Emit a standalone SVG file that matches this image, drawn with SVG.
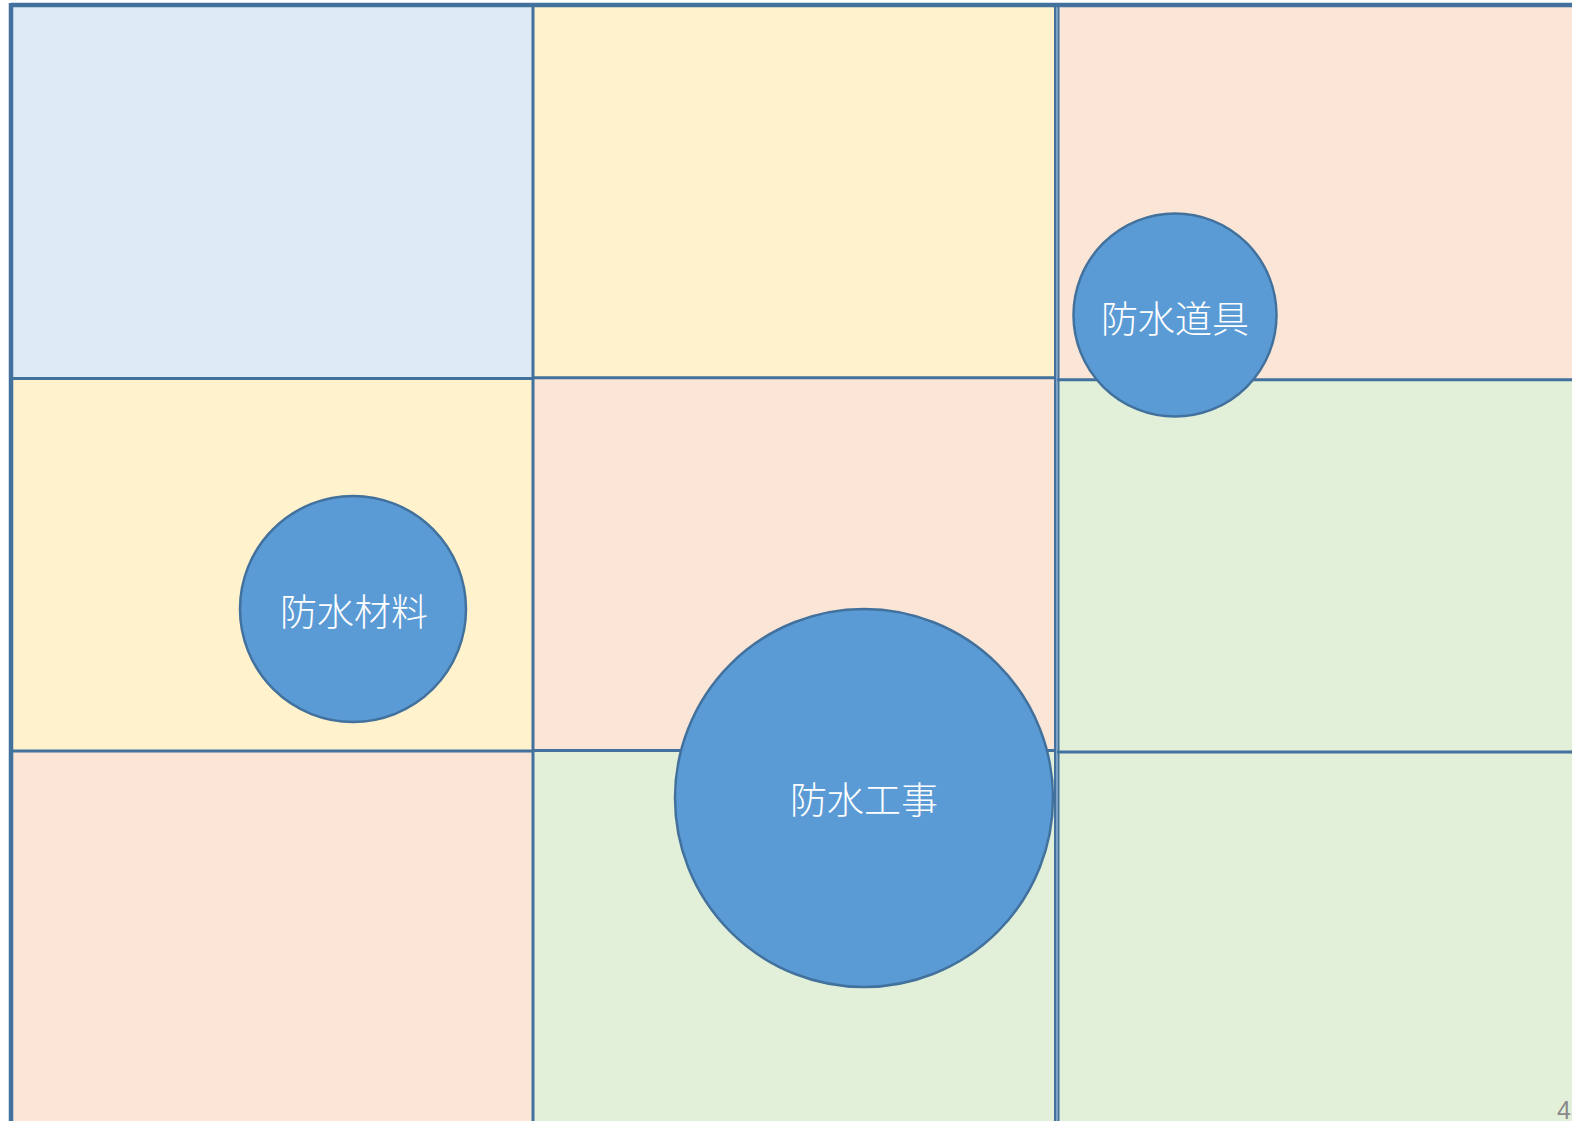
<svg xmlns="http://www.w3.org/2000/svg" width="1572" height="1121" viewBox="0 0 1572 1121">
<style>
.ln{stroke:#41719c;stroke-width:3;fill:none}
.node circle{fill:#5b9bd5;stroke:#41719c;stroke-width:2.5}
.node text{fill:#ffffff;font-family:"Noto Sans CJK JP","Noto Sans CJK SC",sans-serif;font-weight:300;font-size:37px;text-anchor:middle}
</style>
<rect x="0" y="0" width="1572" height="1121" fill="#ffffff"/>
<g id="cells">
<rect x="11" y="5" width="522" height="373" fill="#deebf7"/>
<rect x="11" y="378" width="522" height="373" fill="#fff2cc"/>
<rect x="11" y="751" width="522" height="370" fill="#fbe5d6"/>
<rect x="533" y="5" width="522" height="373" fill="#fff2cc"/>
<rect x="533" y="378" width="522" height="373" fill="#fbe5d6"/>
<rect x="533" y="751" width="522" height="370" fill="#e2f0d9"/>
<rect x="1057" y="5" width="515" height="375" fill="#fbe5d6"/>
<rect x="1057" y="380" width="515" height="372" fill="#e2f0d9"/>
<rect x="1057" y="752" width="515" height="369" fill="#e2f0d9"/>
</g>
<g id="grid">
<line class="ln" x1="11" y1="378.5" x2="533" y2="378.5"/>
<line class="ln" x1="533" y1="377.7" x2="1055" y2="377.7"/>
<line class="ln" x1="1057" y1="379.7" x2="1572" y2="379.7"/>
<line class="ln" x1="11" y1="751" x2="533" y2="751"/>
<line class="ln" x1="533" y1="750.5" x2="1055" y2="750.5"/>
<line class="ln" x1="1057" y1="752" x2="1572" y2="752"/>
<line class="ln" x1="533" y1="5" x2="533" y2="1121"/>
<line x1="1056.7" y1="5" x2="1056.7" y2="1121" stroke="#7ea6cc" stroke-width="1.5"/>
<line x1="1055" y1="5" x2="1055" y2="1121" stroke="#41719c" stroke-width="2"/>
<line x1="1058.5" y1="5" x2="1058.5" y2="1121" stroke="#41719c" stroke-width="2"/>
<line x1="11" y1="5" x2="1572" y2="5" stroke="#41719c" stroke-width="4.5"/>
<line x1="11" y1="3" x2="11" y2="1121" stroke="#41719c" stroke-width="4.5"/>
</g>
<g id="node-zairyo" class="node">
<circle cx="353" cy="609" r="113"/>
<text x="354" y="626">防水材料</text>
</g>
<g id="node-koji" class="node">
<circle cx="864" cy="798" r="189"/>
<text x="864" y="814">防水工事</text>
</g>
<g id="node-dogu" class="node">
<circle cx="1175" cy="315" r="101.5"/>
<text x="1175" y="333">防水道具</text>
</g>
<text x="1571" y="1119" font-family="Liberation Sans,sans-serif" font-size="25" fill="#8a8a8a" text-anchor="end">4</text>
</svg>
